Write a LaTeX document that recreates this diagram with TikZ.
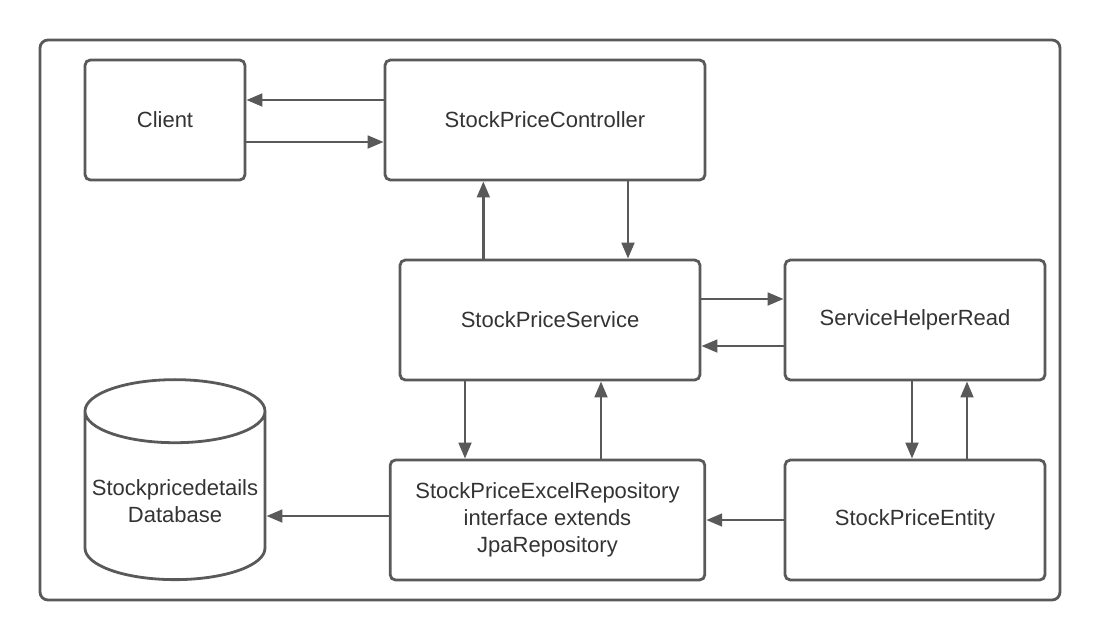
\documentclass[tikz,border=0pt]{standalone}
\usepackage{fontspec}
\setmainfont{Liberation Sans}
\usepackage{xcolor}
\usetikzlibrary{shapes.geometric,arrows.meta}
\definecolor{linegray}{RGB}{89,89,89}
\definecolor{textgray}{RGB}{51,51,51}

\begin{document}
\begin{tikzpicture}[x=0.75pt, y=-0.75pt,
  block/.style={rectangle, draw=linegray, line width=2.1pt, rounded corners=4pt, minimum height=90pt, align=center, text=textgray, font=\fontsize{16.5}{20.25}\selectfont},
  database/.style={cylinder, shape border rotate=90, aspect=0.36, draw=linegray, line width=2.1pt, minimum width=135pt, minimum height=150pt, align=center, text=textgray, font=\fontsize{16.5}{20.25}\selectfont},
  frame/.style={draw=linegray, line width=2.1pt, rounded corners=6pt},
  arrow/.style={line width=2.1pt, draw=linegray, -{Triangle[length=12pt,width=9.5pt]}}]

  \useasboundingbox (0,0) rectangle (1100,640);
  \draw [frame] (40,40) rectangle (1060,600);

  \node [block, minimum width=120pt] (client) at (165,120) {Client};
  \node [block, minimum width=240pt] (controller) at (545,120) {StockPriceController};
  \node [block, minimum width=225pt] (service) at (550,320) {StockPriceService};
  \node [block, minimum width=195pt] (helper) at (915,320) {ServiceHelperRead};
  \node [block, minimum width=236pt] (repo) at (547.5,520) {StockPriceExcelRepository\\ interface extends\\ JpaRepository};
  \node [block, minimum width=195pt] (entity) at (915,520) {StockPriceEntity};
  \node [database] (db) at (175,501) {Stockpricedetails\\ Database};

  \draw [arrow] ([yshift=15pt]controller.west) -- ([yshift=15pt]client.east);
  \draw [arrow] ([yshift=-16.5pt]client.east) -- ([yshift=-16.5pt]controller.west);
  \draw [arrow] ([xshift=-50pt]service.north) -- ([xshift=-50pt]service.north |- controller.south);
  \draw [arrow] ([xshift=58.5pt]service.north |- controller.south) -- ([xshift=58.5pt]service.north);
  \draw [arrow] ([yshift=15.75pt]service.east) -- ([yshift=15.75pt]service.east -| helper.west);
  \draw [arrow] ([yshift=-19.5pt]helper.west) -- ([yshift=-19.5pt]helper.west -| service.east);
  \draw [arrow] ([xshift=-63.75pt]service.south) -- ([xshift=-63.75pt]service.south |- repo.north);
  \draw [arrow] ([xshift=38.25pt]service.south |- repo.north) -- ([xshift=38.25pt]service.south);
  \draw [arrow] ([xshift=-2.25pt]helper.south) -- ([xshift=-2.25pt]helper.south |- entity.north);
  \draw [arrow] ([xshift=39pt]helper.south |- entity.north) -- ([xshift=39pt]helper.south);
  \draw [arrow] (entity.west) -- (entity.west -| repo.east);
  \draw [arrow] ([yshift=3pt]repo.west) -- ([yshift=3pt]repo.west -| db.east);
\end{tikzpicture}
\end{document}
